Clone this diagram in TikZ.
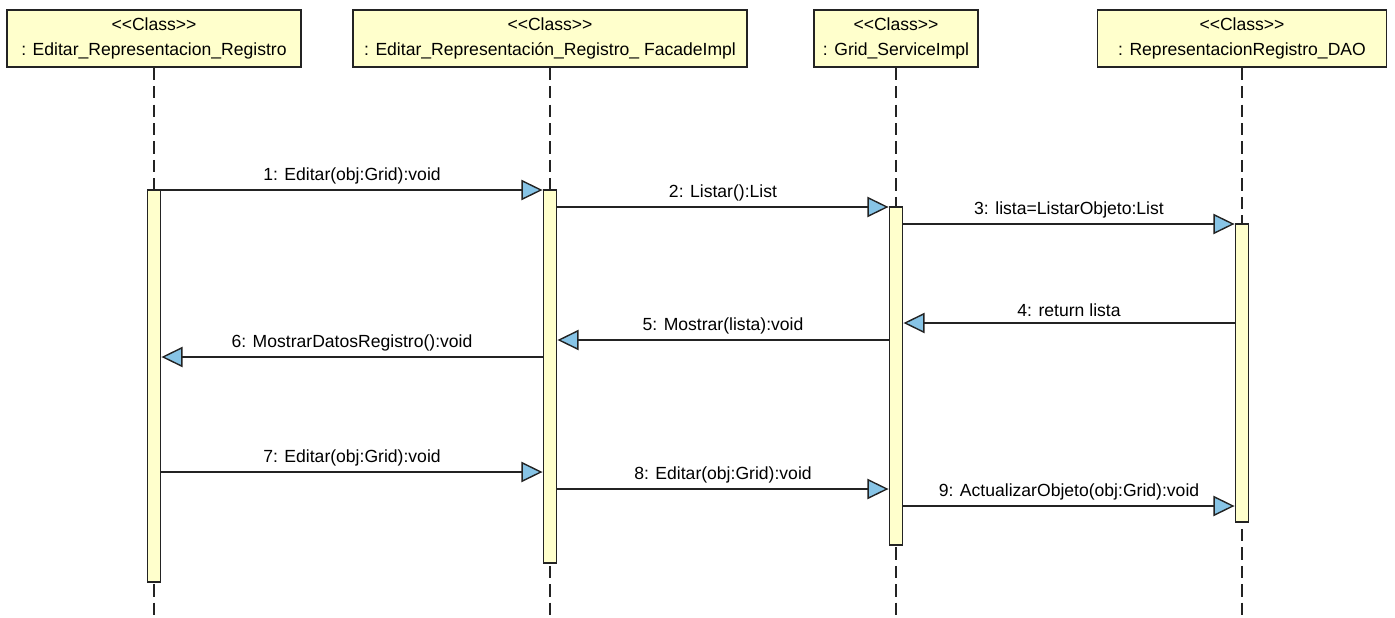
\documentclass[tikz,border=0pt]{standalone}
\usepackage{fontspec}
\setmainfont{Liberation Sans}[Ligatures=TeXOff]
\usetikzlibrary{arrows.meta}

\definecolor{boxyellow}{RGB}{255,255,204}
\definecolor{tipblue}{RGB}{135,196,230}
\definecolor{linegray}{RGB}{35,35,35}

\tikzset{
  classbox/.style={draw=linegray, fill=boxyellow, line width=0.8pt,
    minimum height=1.14cm, align=center, inner sep=0pt,
    font=\fontsize{10}{14}\selectfont},
  actbar/.style={draw=linegray, fill=boxyellow, line width=0.8pt,
    minimum width=0.27cm, inner sep=0pt},
  lifeline/.style={linegray, line width=0.8pt, dash pattern=on 7pt off 3.5pt},
  msg/.style={linegray, line width=0.8pt,
    -{Triangle[length=12pt,width=11.5pt,fill=tipblue]}},
  msglabel/.style={above=3pt, midway, inner sep=0pt, text=black,
    font=\fontsize{10}{12}\selectfont},
}

\begin{document}
\begin{tikzpicture}[x=0.02cm, y=-0.02cm]
	\useasboundingbox (0,0) rectangle (1395,618);
	\coordinate (bottom) at (0,618);

	% Objekte
	\node[classbox, minimum width=5.88cm] (editar) at (154,38.5)
		{<<Class>>\\: Editar\_Representacion\_Registro};
	\node[classbox, minimum width=7.88cm] (facade) at (550,38.5)
		{<<Class>>\\: Editar\_Representación\_Registro\_ FacadeImpl};
	\node[classbox, minimum width=3.28cm] (service) at (896,38.5)
		{<<Class>>\\: Grid\_ServiceImpl};
	\node[classbox, minimum width=5.78cm] (dao) at (1242,38.5)
		{<<Class>>\\: RepresentacionRegistro\_DAO};

	% Lebenslinien
	\draw[lifeline] (editar.south) -- (editar.south |- bottom);
	\draw[lifeline] (facade.south) -- (facade.south |- bottom);
	\draw[lifeline] (service.south) -- (service.south |- bottom);
	\draw[lifeline] (dao.south) -- (dao.south |- bottom);

	% Aktivierungsbalken
	\node[actbar, minimum height=7.84cm] (barA) at (154,386) {};
	\node[actbar, minimum height=7.46cm] (barB) at (550,376.5) {};
	\node[actbar, minimum height=6.76cm] (barC) at (896,376) {};
	\node[actbar, minimum height=5.96cm] (barD) at (1242,373) {};

	% Hoehen der Nachrichten
	\coordinate (m1) at (0,190);
	\coordinate (m2) at (0,207);
	\coordinate (m3) at (0,224);
	\coordinate (m4) at (0,323);
	\coordinate (m5) at (0,340);
	\coordinate (m6) at (0,357);
	\coordinate (m7) at (0,472);
	\coordinate (m8) at (0,489);
	\coordinate (m9) at (0,506);

	% Nachrichten
	\draw[msg] (barA.east |- m1) -- (barB.west |- m1)
		node[msglabel] {1: Editar(obj:Grid):void};
	\draw[msg] (barB.east |- m2) -- (barC.west |- m2)
		node[msglabel] {2: Listar():List};
	\draw[msg] (barC.east |- m3) -- (barD.west |- m3)
		node[msglabel] {3: lista=ListarObjeto:List};
	\draw[msg] (barD.west |- m4) -- (barC.east |- m4)
		node[msglabel] {4: return lista};
	\draw[msg] (barC.west |- m5) -- (barB.east |- m5)
		node[msglabel] {5: Mostrar(lista):void};
	\draw[msg] (barB.west |- m6) -- (barA.east |- m6)
		node[msglabel] {6: MostrarDatosRegistro():void};
	\draw[msg] (barA.east |- m7) -- (barB.west |- m7)
		node[msglabel] {7: Editar(obj:Grid):void};
	\draw[msg] (barB.east |- m8) -- (barC.west |- m8)
		node[msglabel] {8: Editar(obj:Grid):void};
	\draw[msg] (barC.east |- m9) -- (barD.west |- m9)
		node[msglabel] {9: ActualizarObjeto(obj:Grid):void};

\end{tikzpicture}
\end{document}
